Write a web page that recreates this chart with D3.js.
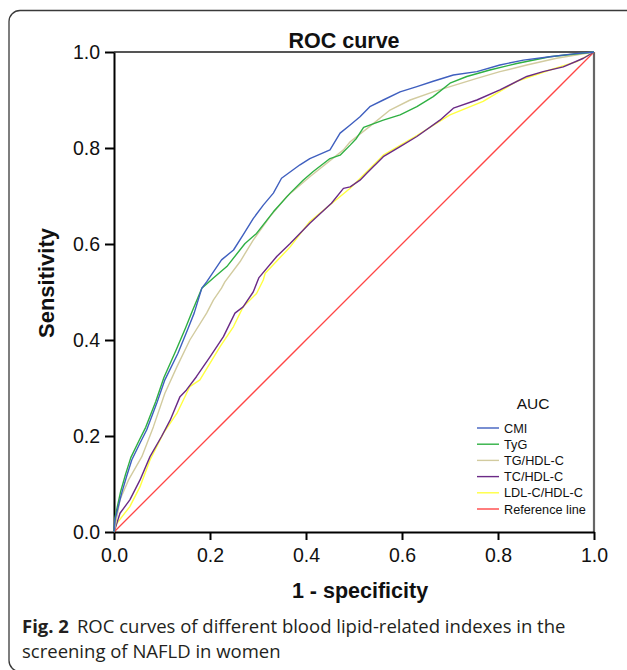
<!DOCTYPE html>
<html>
<head>
<meta charset="utf-8">
<script src="https://cdn.jsdelivr.net/npm/d3@7"></script>
<style>
  html, body { margin: 0; padding: 0; background: #fff; }
  svg { display: block; }
</style>
</head>
<body>
<svg id="chart" width="627" height="670"></svg>
<script>
// ---------- data ----------
const seriesNames = ["CMI", "TyG", "TG/HDL-C", "TC/HDL-C", "LDL-C/HDL-C"];
const referenceName = "Reference line";
const xTicks = [0.0, 0.2, 0.4, 0.6, 0.8, 1.0];
const yTicks = [0.0, 0.2, 0.4, 0.6, 0.8, 1.0];

const cmi = [[0,0],[0.002,0.025],[0.016,0.081],[0.026,0.115],[0.037,0.15],[0.054,0.185],[0.068,0.2125],[0.089,0.268],[0.106,0.317],[0.133,0.372],[0.153,0.421],[0.167,0.456],[0.183,0.508],[0.193,0.521],[0.224,0.567],[0.249,0.5875],[0.269,0.619],[0.29,0.653],[0.311,0.681],[0.332,0.706],[0.349,0.737],[0.3875,0.765],[0.408,0.778],[0.45,0.796],[0.471,0.831],[0.492,0.848],[0.5125,0.865],[0.533,0.886],[0.561,0.9],[0.596,0.917],[0.631,0.928],[0.665,0.939],[0.707,0.952],[0.756,0.959],[0.804,0.973],[0.853,0.983],[0.908,0.99],[0.957,0.996],[1,1]];
const tyg = [[0,0],[0.002,0.03],[0.014,0.085],[0.024,0.12],[0.035,0.155],[0.052,0.19],[0.066,0.218],[0.087,0.272],[0.104,0.322],[0.129,0.378],[0.149,0.425],[0.163,0.46],[0.183,0.508],[0.207,0.529],[0.235,0.553],[0.273,0.601],[0.297,0.622],[0.332,0.667],[0.367,0.706],[0.394,0.733],[0.415,0.751],[0.45,0.778],[0.471,0.785],[0.492,0.806],[0.505,0.82],[0.52,0.843],[0.561,0.858],[0.596,0.869],[0.631,0.886],[0.665,0.907],[0.7,0.935],[0.735,0.949],[0.783,0.9625],[0.839,0.976],[0.908,0.99],[1,1]];
const tgHdl = [[0,0],[0.004,0.02],[0.0125,0.067],[0.03,0.108],[0.058,0.157],[0.082,0.219],[0.106,0.289],[0.131,0.344],[0.158,0.4],[0.193,0.456],[0.207,0.483],[0.224,0.508],[0.231,0.521],[0.2625,0.563],[0.29,0.608],[0.325,0.657],[0.36,0.699],[0.408,0.74],[0.478,0.796],[0.492,0.813],[0.533,0.845],[0.575,0.879],[0.617,0.9],[0.665,0.917],[0.7,0.928],[0.756,0.945],[0.804,0.959],[0.86,0.973],[0.922,0.987],[1,1]];
const tcHdl = [[0,0],[0.0125,0.039],[0.033,0.067],[0.054,0.108],[0.075,0.157],[0.099,0.199],[0.117,0.233],[0.1375,0.282],[0.151,0.296],[0.172,0.324],[0.2,0.365],[0.228,0.407],[0.252,0.456],[0.269,0.469],[0.29,0.5],[0.302,0.53],[0.339,0.574],[0.367,0.601],[0.408,0.643],[0.453,0.685],[0.478,0.716],[0.492,0.719],[0.5125,0.733],[0.526,0.747],[0.561,0.782],[0.596,0.803],[0.631,0.824],[0.679,0.858],[0.707,0.883],[0.756,0.9],[0.804,0.921],[0.86,0.949],[0.894,0.959],[0.936,0.969],[0.978,0.987],[1,1]];
const ldlHdl = [[0,0],[0.006,0.018],[0.033,0.053],[0.054,0.094],[0.075,0.15],[0.103,0.206],[0.131,0.247],[0.158,0.303],[0.179,0.317],[0.221,0.386],[0.249,0.428],[0.269,0.469],[0.297,0.497],[0.311,0.525],[0.315,0.539],[0.367,0.594],[0.408,0.647],[0.492,0.716],[0.561,0.785],[0.631,0.826],[0.7,0.869],[0.769,0.897],[0.839,0.939],[0.908,0.9625],[0.964,0.98],[1,1]];
const referenceLine = [[0,0],[1,1]];

const seriesData = [cmi, tyg, tgHdl, tcHdl, ldlHdl];
const seriesColors = ["#3f5fbf", "#2fb043", "#d2cb9f", "#6b2a86", "#ffff40"];
const referenceColor = "#ff4646";

// ---------- layout ----------
const svg = d3.select("#chart");
const W = 627, H = 670;
const mLeft = 114, mRight = 594, mTop = 52, mBottom = 532;
const arial = "'Liberation Sans', Arial, sans-serif";

svg.append("rect").attr("width", W).attr("height", H).attr("fill", "#fff");

// outer rounded frame (right and bottom edges run off the picture)
svg.append("rect")
  .attr("x", 9).attr("y", 10.5).attr("width", 700).attr("height", 661)
  .attr("rx", 11).attr("ry", 11)
  .attr("fill", "none").attr("stroke", "#3a3a3a").attr("stroke-width", 1.3);

const x = d3.scaleLinear().domain([0, 1]).range([mLeft, mRight]);
const y = d3.scaleLinear().domain([0, 1]).range([mBottom, mTop]);

// plot frame top/right
svg.append("line").attr("x1", mLeft).attr("x2", mRight).attr("y1", mTop).attr("y2", mTop)
  .attr("stroke", "#555").attr("stroke-width", 2);
svg.append("line").attr("x1", mRight).attr("x2", mRight).attr("y1", mTop).attr("y2", mBottom)
  .attr("stroke", "#666").attr("stroke-width", 2.2);

// axes
const xAxis = d3.axisBottom(x).tickValues(xTicks).tickFormat(d3.format(".1f"))
  .tickSizeInner(8).tickSizeOuter(0).tickPadding(8);
const yAxis = d3.axisLeft(y).tickValues(yTicks).tickFormat(d3.format(".1f"))
  .tickSizeInner(9).tickSizeOuter(0).tickPadding(5);

const gx = svg.append("g").attr("transform", `translate(0,${mBottom})`).call(xAxis);
const gy = svg.append("g").attr("transform", `translate(${mLeft},0)`).call(yAxis);
[gx, gy].forEach(g => {
  g.select(".domain").attr("stroke", "#000").attr("stroke-width", 2);
  g.selectAll(".tick line").attr("stroke", "#000").attr("stroke-width", 2);
  g.selectAll(".tick text").attr("font-family", arial).attr("font-size", 19.5).attr("fill", "#111");
});

// curves
const line = d3.line().x(d => x(d[0])).y(d => y(d[1]));
const plot = svg.append("g");
plot.append("path").datum(referenceLine).attr("d", line)
  .attr("fill", "none").attr("stroke", referenceColor).attr("stroke-width", 1.3);
[4, 3, 2, 1, 0].forEach(i => {
  plot.append("path").datum(seriesData[i]).attr("d", line)
    .attr("fill", "none").attr("stroke", seriesColors[i])
    .attr("stroke-width", 1.4).attr("stroke-linejoin", "round");
});

// title and axis labels
svg.append("text").attr("x", 344).attr("y", 48).attr("text-anchor", "middle")
  .attr("font-family", arial).attr("font-weight", "bold").attr("font-size", 21.5)
  .attr("fill", "#111").text("ROC curve");
svg.append("text").attr("x", 360).attr("y", 598).attr("text-anchor", "middle")
  .attr("font-family", arial).attr("font-weight", "bold").attr("font-size", 21.5)
  .attr("fill", "#111").text("1 - specificity");
svg.append("text").attr("transform", "translate(54,283) rotate(-90)").attr("text-anchor", "middle")
  .attr("font-family", arial).attr("font-weight", "bold").attr("font-size", 22)
  .attr("fill", "#111").text("Sensitivity");

// legend
const legend = svg.append("g");
legend.append("text").attr("x", 533).attr("y", 409).attr("text-anchor", "middle")
  .attr("font-family", arial).attr("font-size", 15.5).attr("fill", "#111").text("AUC");
const legendNames = seriesNames.concat([referenceName]);
const legendColors = seriesColors.concat([referenceColor]);
legendNames.forEach((name, i) => {
  const yy = 428 + i * 16.2;
  legend.append("line").attr("x1", 477).attr("x2", 499).attr("y1", yy).attr("y2", yy)
    .attr("stroke", legendColors[i]).attr("stroke-width", 1.4);
  legend.append("text").attr("x", 504).attr("y", yy + 4.5)
    .attr("font-family", arial).attr("font-size", 12.7).attr("fill", "#111").text(name);
});

// caption
const capFont = "'Open Sans', 'Noto Sans', sans-serif";
const cap1 = svg.append("text").attr("x", 22).attr("y", 633)
  .attr("font-family", capFont).attr("font-size", 18.5).attr("fill", "#231f20");
cap1.append("tspan").attr("font-weight", "bold").text("Fig. 2");
cap1.append("tspan").attr("dx", 8).text("ROC curves of different blood lipid-related indexes in the");
svg.append("text").attr("x", 22).attr("y", 658)
  .attr("font-family", capFont).attr("font-size", 18.5).attr("fill", "#231f20")
  .text("screening of NAFLD in women");
</script>
</body>
</html>
